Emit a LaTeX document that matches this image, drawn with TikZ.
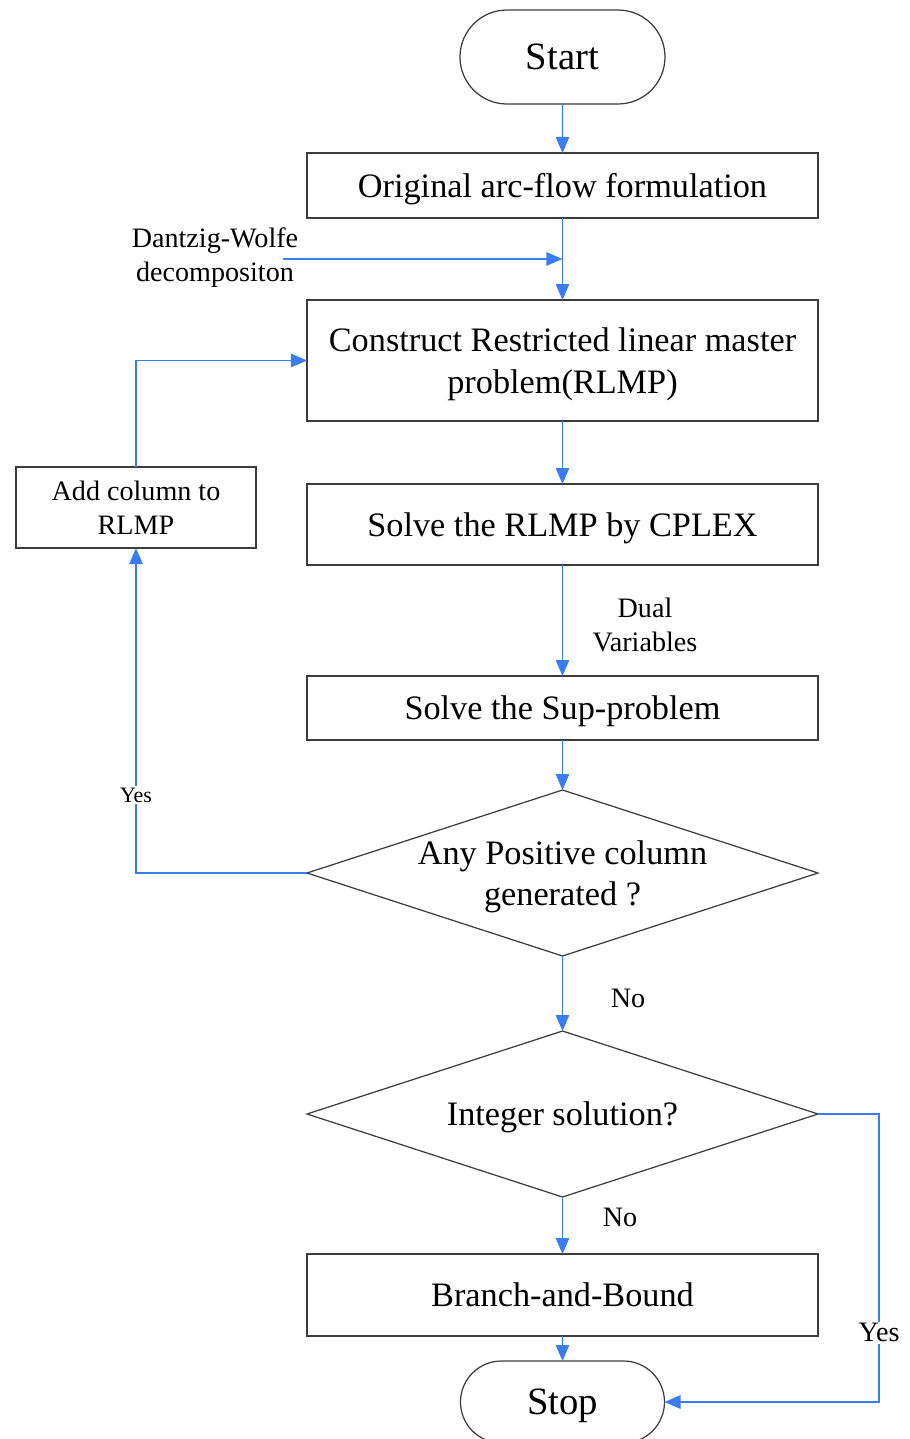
\documentclass[tikz,border=0pt]{standalone}
\usepackage{fontspec}
\setmainfont{Liberation Serif}
\usepackage{xcolor}
\usepackage{tikz}
\usetikzlibrary{shapes.geometric, shapes.misc, arrows.meta, positioning, calc}
\definecolor{flowblue}{RGB}{58,124,245}
\definecolor{edgegray}{RGB}{60,60,60}
\newcommand{\boxfont}{\fontsize{19.5}{23.5}\selectfont}
\newcommand{\termfont}{\fontsize{22}{26}\selectfont}
\newcommand{\lblfont}{\fontsize{16}{19.3}\selectfont}
\newcommand{\yesfont}{\fontsize{12.5}{15}\selectfont}
\tikzset{
  terminal/.style = {rounded rectangle, draw=edgegray, line width=0.7pt,
                     minimum width=4.1cm, minimum height=1.88cm,
                     inner sep=0pt, outer sep=0pt, text depth=0pt,
                     font=\termfont},
  process/.style  = {rectangle, draw=edgegray, line width=0.7pt,
                     minimum width=10.22cm, align=center,
                     inner sep=0pt, outer sep=0pt, text depth=0pt,
                     font=\boxfont},
  sidebox/.style  = {rectangle, draw=edgegray, line width=0.7pt,
                     minimum width=4.8cm, minimum height=1.62cm,
                     align=center, inner sep=0pt, outer sep=0pt,
                     font=\lblfont},
  decision/.style = {diamond, draw=edgegray, line width=0.7pt, aspect=3.08,
                     minimum width=10.22cm, minimum height=3.32cm,
                     align=center, inner sep=-3pt, outer sep=0pt,
                     text depth=0pt, font=\boxfont},
  arr/.style      = {-{Triangle[length=0.32cm, width=0.27cm]},
                     draw=flowblue, line width=0.6pt},
  lbl/.style      = {align=center, font=\lblfont, inner sep=1pt},
}

\begin{document}
\begin{tikzpicture}
\useasboundingbox (-11.25,1.14) rectangle (6.93,-27.64);

% ── Main column ─────────────────────────────────────────
\node[terminal] (start) at (0,0) {Start};
\node[process, minimum height=1.3cm, below=0.98cm of start] (orig)
      {Original arc-flow formulation};
\node[process, minimum height=2.42cm, below=1.64cm of orig] (construct)
      {Construct Restricted linear master\\problem(RLMP)};
\node[process, minimum height=1.62cm, below=1.26cm of construct] (solve)
      {Solve the RLMP by CPLEX};
\node[process, minimum height=1.28cm, below=2.22cm of solve] (sup)
      {Solve the Sup-problem};

% ── Decisions ───────────────────────────────────────────
\node[decision, below=1.0cm of sup] (anypos)
      {Any Positive column\\generated ?};
\node[decision, below=1.5cm of anypos] (intsol)
      {Integer solution?};

\node[process, minimum height=1.64cm, below=1.14cm of intsol] (bnb)
      {Branch-and-Bound};
\node[terminal, minimum width=4.08cm, minimum height=1.64cm,
      below=0.5cm of bnb] (stop) {Stop};

% ── Side box ────────────────────────────────────────────
\node[sidebox, left=1.02cm of solve, yshift=0.34cm] (addcol)
      {Add column to\\RLMP};

% ── Decomposition input ─────────────────────────────────
\coordinate (dwjoin) at ($(orig.south)!0.5!(construct.north)$);
\coordinate (dwfrom) at ([xshift=-5.59cm]dwjoin);
\node[lbl] (dw) at ([xshift=-6.95cm, yshift=0.02cm]dwjoin)
      {Dantzig-Wolfe\\decompositon};

% ── Arrows: main flow ───────────────────────────────────
\draw[arr] (start) -- (orig);
\draw[arr] (orig) -- (construct);
\draw[arr] (dwfrom) -- (dwjoin);
\draw[arr] (construct) -- (solve);
\draw[arr] (solve) -- (sup);
\draw[arr] (sup) -- (anypos);
\draw[arr] (anypos) -- (intsol);
\draw[arr] (intsol) -- (bnb);
\draw[arr] (bnb) -- (stop);

% ── Arrows: loops ───────────────────────────────────────
\draw[arr] (anypos.west) -| node[pos=0.62, fill=white, font=\yesfont,
      inner sep=1pt, text=black] {Yes} (addcol.south);
\draw[arr] (addcol.north) |- (construct.west);
\coordinate (rtcorner) at ([xshift=1.22cm]intsol.east);
\draw[arr] (intsol.east) -- (rtcorner) |- node[pos=0.38, fill=white,
      font=\lblfont, inner sep=1pt, text=black] {Yes} (stop.east);

% ── Edge labels ─────────────────────────────────────────
\node[lbl] at ($(solve.south)!0.5!(sup.north)+(1.65cm,-0.09cm)$)
      {Dual\\Variables};
\node[lbl] at ($(anypos.south)!0.5!(intsol.north)+(1.31cm,-0.09cm)$) {No};
\node[lbl] at ($(intsol.south)!0.5!(bnb.north)+(1.15cm,0.17cm)$) {No};

\end{tikzpicture}
\end{document}
